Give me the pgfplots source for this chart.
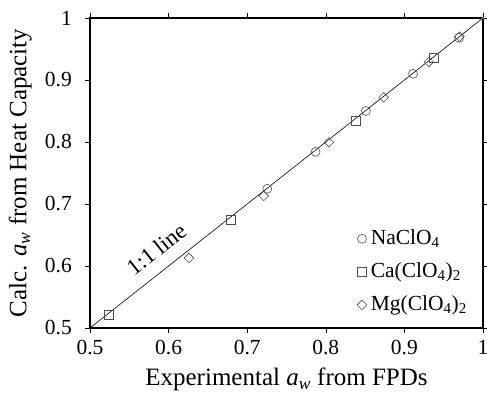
\documentclass[border=0pt]{standalone}
\usepackage{pgfplots}
\pgfplotsset{compat=1.18}
\usepackage{fontspec}
\setmainfont{Liberation Serif}
\begin{document}
\fontsize{21bp}{25bp}\selectfont
\begin{tikzpicture}
\begin{axis}[
  scale only axis, width=393bp, height=310bp,
  xmin=0.5, xmax=1, ymin=0.5, ymax=1,
  xtick={0.5,0.6,...,1.0}, ytick={0.5,0.6,...,1.0},
  xticklabels={0.5,0.6,0.7,0.8,0.9,1},
  yticklabels={0.5,0.6,0.7,0.8,0.9,1},
  tick align=outside, tick pos=both,
  major tick length=5bp,
  axis line style={line width=1.2pt},
  tick style={black, line width=0.6pt},
  /pgf/number format/assume math mode=true,
  ticklabel style={font=\fontsize{21.5bp}{25bp}\selectfont},
  yticklabel style={xshift=-6bp},
  label style={font=\fontsize{25bp}{29bp}\selectfont},
  xlabel={Experimental \textit{a}\textsubscript{\textit{w}} from FPDs},
  ylabel={Calc. \textit{a}\textsubscript{\textit{w}} from Heat Capacity},
  xlabel style={yshift=1bp},
  ylabel style={yshift=-1bp},
  legend style={draw=none, fill=none, at={(axis cs:0.8397,0.662)}, anchor=north west,
    font=\fontsize{21.5bp}{25bp}\selectfont, row sep=11bp, inner sep=0pt,
    /tikz/every odd column/.append style={column sep=2bp}},
  legend cell align=left,
  legend image code/.code={\draw[#1] plot coordinates {(0.12cm,0cm)};},
  clip=false,
]
\addplot[black, line width=0.6pt, forget plot] coordinates {(0.5,0.5) (1,1)};
\addplot[only marks, mark=o, mark size=4.5bp, gray!60!black, mark options={line width=0.6pt}] coordinates {
(0.9695,0.968) (0.911,0.910) (0.851,0.850) (0.787,0.784) (0.7256,0.7247)};
\addlegendentry{NaClO\textsubscript{4}}
\addplot[only marks, mark=square, mark size=4.5bp, gray!60!black, mark options={line width=0.6pt}] coordinates {
(0.937,0.9355) (0.838,0.834) (0.6785,0.674) (0.524,0.521)};
\addlegendentry{Ca(ClO\textsubscript{4})\textsubscript{2}}
\addplot[only marks, mark=square, mark size=3.4bp, gray!60!black, mark options={line width=0.6pt, rotate=45}] coordinates {
(0.970,0.970) (0.931,0.929) (0.8736,0.872) (0.804,0.7995) (0.721,0.713) (0.626,0.613)};
\addlegendentry{Mg(ClO\textsubscript{4})\textsubscript{2}}
\addplot[only marks, mark=asterisk, mark size=3bp, gray, forget plot] coordinates {(1,1)};
\node[rotate=38.3, font=\fontsize{23bp}{27bp}\selectfont] at (axis cs:0.585,0.627) {1:1 line};
\coordinate (bl) at (rel axis cs:0,0);
\coordinate (tr) at (rel axis cs:1,1);
\end{axis}
\pgfresetboundingbox
\path ([shift={(-90bp,-67bp)}]bl) rectangle ([shift={(4bp,18bp)}]tr);
\end{tikzpicture}
\end{document}
